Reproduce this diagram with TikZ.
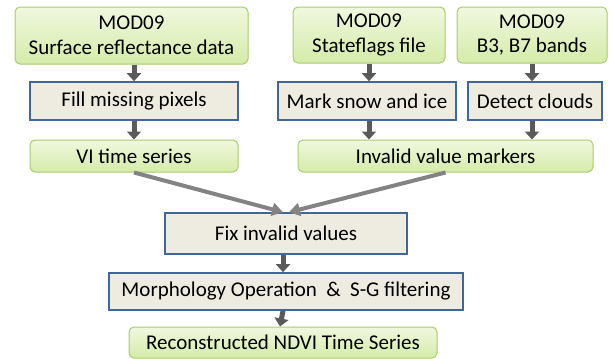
\documentclass[tikz,border=0pt]{standalone}
\usepackage{fontspec}
\setmainfont{Carlito}
\usetikzlibrary{arrows.meta,shadows}
\definecolor{gborder}{HTML}{A9CB6E}
\definecolor{gtop}{HTML}{F0F8DF}
\definecolor{gbot}{HTML}{D5EBA9}
\definecolor{bborder}{HTML}{41669A}
\definecolor{bfill}{HTML}{EEECE1}
\definecolor{darr}{HTML}{5A5A5A}
\definecolor{larr}{HTML}{838383}
\tikzset{
  gbox/.style={draw=gborder, line width=1pt, rounded corners=5pt,
    top color=gtop, bottom color=gbot, align=center, inner sep=0pt,
    font=\fontsize{21}{24.5}\selectfont},
  bbox/.style={draw=bborder, line width=1.6pt, fill=bfill, align=center,
    inner sep=0pt, font=\fontsize{21}{24.5}\selectfont},
  varrow/.style={draw=darr, line width=5pt, -{Triangle[width=14pt,length=8pt]}},
  darrow/.style={draw=larr, line width=4pt, -{Triangle[width=13pt,length=11pt]}}
}
\begin{document}
\begin{tikzpicture}[x=1pt,y=-1pt]
\useasboundingbox (0,0) rectangle (614,359);
\node[gbox, minimum width=233pt, minimum height=57pt] (src1) at (131.5,35.5) {MOD09\\Surface reflectance data};
\node[gbox, minimum width=152pt, minimum height=56pt] (src2) at (369,35) {MOD09\\Stateflags file};
\node[gbox, minimum width=150pt, minimum height=56pt] (src3) at (532,35) {MOD09\\B3, B7 bands};
\node[bbox, minimum width=208pt, minimum height=38pt] (fill) at (134,101) {Fill missing pixels};
\node[bbox, minimum width=178pt, minimum height=38pt] (snow) at (367,101) {Mark snow and ice};
\node[bbox, minimum width=134pt, minimum height=38pt] (cloud) at (535,101) {Detect clouds};
\node[gbox, minimum width=208pt, minimum height=32pt] (vi) at (134,156) {VI time series};
\node[gbox, minimum width=295pt, minimum height=32pt] (inv) at (445.5,156) {Invalid value markers};
\node[bbox, minimum width=242pt, minimum height=41pt] (fix) at (286,233.5) {Fix invalid values};
\node[bbox, minimum width=354pt, minimum height=37pt] (morph) at (286,291.5) {Morphology Operation \ \& \ S-G filtering};
\node[gbox, minimum width=308pt, minimum height=31pt] (rec) at (283,342.5) {Reconstructed NDVI Time Series};
% vertical arrows
\draw[varrow] (src1.south -| fill.north) -- (fill.north);
\draw[varrow] (fill.south) -- (vi.north);
\draw[varrow] (src2.south) -- (src2.south |- snow.north);
\draw[varrow] (src3.south) -- (src3.south |- cloud.north);
\draw[varrow] (src2.south |- snow.south) -- (src2.south |- inv.north);
\draw[varrow] (src3.south |- cloud.south) -- (src3.south |- inv.north);
\draw[varrow] ([xshift=-3pt]fix.south) -- ([xshift=-3pt]morph.north);
\draw[varrow] ([xshift=-3pt]morph.south) -- ([xshift=-3pt]rec.north);
% diagonal arrows
\draw[darrow] (vi.south) -- ([xshift=-3pt]fix.north);
\draw[darrow] (inv.south) -- ([xshift=3pt]fix.north);
\end{tikzpicture}
\end{document}
